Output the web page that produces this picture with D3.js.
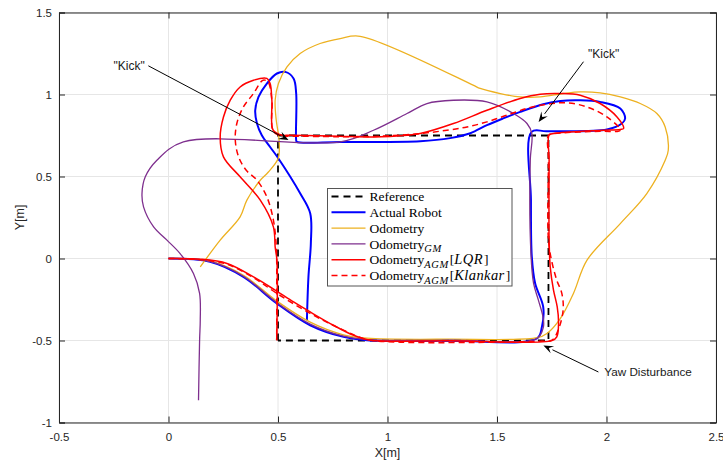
<!DOCTYPE html>
<html>
<head>
<meta charset="utf-8">
<script src="https://cdn.jsdelivr.net/npm/d3@7"></script>
<style>
  body { margin: 0; background: #fff; }
  svg { display: block; font-family: "Liberation Sans", Arial, sans-serif; }
</style>
</head>
<body>
<svg id="chart" width="723" height="464"></svg>
<script>
// axis ticks
const xTicks = [-0.5, 0, 0.5, 1, 1.5, 2, 2.5];
const yTicks = [-1, -0.5, 0, 0.5, 1, 1.5];

// reference square
const reference = [[0.5, -0.5], [0.5, 0.75], [1.735, 0.75], [1.735, -0.5], [0.5, -0.5]];

// actual robot (blue)
const actualRobot = [
  [0, 0], [0.19, -0.02], [0.342, -0.112], [0.495, -0.274], [0.647, -0.407], [0.799, -0.478],
  [0.906, -0.498], [1.286, -0.501], [1.682, -0.488], [1.705, -0.417], [1.711, -0.295],
  [1.674, -0.151], [1.659, 0.01], [1.655, 0.356], [1.658, 0.772], [1.728, 0.776],
  [2.002, 0.787], [2.07, 0.823], [2.085, 0.854], [2.063, 0.915], [1.971, 0.955],
  [1.88, 0.965], [1.789, 0.961], [1.711, 0.941], [1.606, 0.894], [1.528, 0.854],
  [1.454, 0.813], [1.378, 0.764], [1.286, 0.734], [1.149, 0.715], [0.784, 0.711],
  [0.586, 0.711], [0.583, 0.722], [0.583, 1.006], [0.571, 1.098], [0.533, 1.138],
  [0.495, 1.128], [0.449, 1.067], [0.411, 0.985], [0.396, 0.904], [0.404, 0.823],
  [0.426, 0.752], [0.464, 0.68], [0.502, 0.61], [0.601, 0.398], [0.647, 0.276],
  [0.65, 0.093], [0.639, -0.112], [0.632, -0.376]
];

// odometry (orange)
const odometry = [
  [0, 0], [0.19, -0.016], [0.342, -0.102], [0.495, -0.26], [0.647, -0.388], [0.799, -0.465],
  [0.906, -0.486], [1.286, -0.492], [1.684, -0.483], [1.728, -0.457], [1.789, -0.366],
  [1.849, -0.213], [1.911, -0.01], [2.063, 0.213], [2.184, 0.396], [2.268, 0.599],
  [2.282, 0.66], [2.268, 0.802], [2.23, 0.884], [2.154, 0.945], [2.063, 0.985],
  [1.971, 1.01], [1.88, 1.016], [1.804, 1.006], [1.697, 0.985], [1.606, 0.985],
  [1.515, 1.006], [1.423, 1.037], [1.391, 1.057], [0.875, 1.355], [0.784, 1.341],
  [0.692, 1.311], [0.601, 1.25], [0.541, 1.168], [0.502, 1.067], [0.487, 0.965],
  [0.492, 0.843], [0.505, 0.721], [0.501, 0.611], [0.455, 0.526], [0.419, 0.477],
  [0.358, 0.356], [0.327, 0.254], [0.236, 0.112], [0.145, -0.051]
];

// odometry GM (purple)
const odometryGM = [
  [0, 0], [0.19, -0.018], [0.342, -0.108], [0.495, -0.27], [0.647, -0.4], [0.799, -0.474],
  [0.906, -0.495], [1.286, -0.498], [1.682, -0.488], [1.712, -0.417], [1.71, -0.356],
  [1.689, -0.254], [1.667, -0.152], [1.655, 0.03], [1.652, 0.599], [1.659, 0.762],
  [1.637, 0.823], [1.575, 0.884], [1.454, 0.955], [1.301, 0.965], [1.18, 0.945],
  [1.089, 0.884], [0.936, 0.782], [0.784, 0.711], [0.068, 0.711], [-0.053, 0.599],
  [-0.106, 0.498], [-0.121, 0.396], [-0.114, 0.315], [-0.068, 0.193], [-0.007, 0.112],
  [0.053, 0.03], [0.114, -0.091], [0.142, -0.213], [0.145, -0.376], [0.142, -0.498],
  [0.137, -0.864]
];

// odometry AGM with LQR (red solid)
const odometryLQR = [
  [0, 0], [0.145, -0.004], [0.267, -0.03], [0.388, -0.112], [0.487, -0.193], [0.571, -0.265],
  [0.647, -0.326], [0.753, -0.407], [0.845, -0.468], [0.921, -0.498], [1.286, -0.501],
  [1.751, -0.501], [1.773, -0.478], [1.781, -0.396], [1.775, -0.295], [1.758, -0.193],
  [1.743, -0.051], [1.738, 0.112], [1.738, 0.599], [1.738, 0.752], [1.758, 0.762],
  [1.834, 0.772], [1.986, 0.782], [2.063, 0.787], [2.078, 0.793], [2.048, 0.863],
  [1.971, 0.945], [1.88, 0.996], [1.789, 1.006], [1.697, 1.002], [1.606, 0.976],
  [1.454, 0.904], [1.301, 0.823], [1.149, 0.762], [1.089, 0.752], [0.936, 0.741],
  [0.784, 0.746], [0.556, 0.752], [0.518, 0.752], [0.478, 0.782], [0.472, 0.965],
  [0.464, 1.067], [0.449, 1.098], [0.388, 1.087], [0.327, 1.046], [0.282, 0.965],
  [0.251, 0.863], [0.236, 0.741], [0.251, 0.62], [0.327, 0.498], [0.419, 0.356],
  [0.479, 0.193], [0.487, 0.071], [0.495, -0.01], [0.494, -0.498]
];

// odometry AGM with Klancar (red dashed)
const odometryKlankar = [
  [0, 0], [0.145, -0.007], [0.267, -0.035], [0.388, -0.117], [0.495, -0.213], [0.647, -0.335],
  [0.799, -0.437], [0.906, -0.494], [1.058, -0.51], [1.515, -0.51], [1.697, -0.504],
  [1.751, -0.498], [1.779, -0.437], [1.802, -0.315], [1.796, -0.213], [1.773, -0.132],
  [1.751, -0.023], [1.735, 0.112], [1.735, 0.599], [1.735, 0.752], [1.756, 0.761],
  [1.971, 0.776], [2.063, 0.782], [2.002, 0.863], [1.911, 0.924], [1.819, 0.949],
  [1.728, 0.941], [1.637, 0.915], [1.545, 0.874], [1.454, 0.833], [1.363, 0.802],
  [1.271, 0.782], [1.149, 0.762], [0.967, 0.746], [0.784, 0.743], [0.556, 0.746],
  [0.518, 0.746], [0.478, 0.776], [0.472, 0.965], [0.455, 1.075], [0.432, 1.087],
  [0.388, 1.006], [0.342, 0.924], [0.312, 0.823], [0.305, 0.721], [0.32, 0.62],
  [0.355, 0.538], [0.404, 0.477], [0.449, 0.376], [0.479, 0.234], [0.492, 0.081],
  [0.494, -0.01], [0.494, -0.498]
];

// annotations: text, text position, arrow start, arrow tip (data units)
const annotations = [
  { label: '"Kick"', at: [-0.18, 1.175], from: [-0.092, 1.175], to: [0.548, 0.722] },
  { label: '"Kick"', at: [1.987, 1.25], from: [1.895, 1.2], to: [1.69, 0.833] },
  { label: 'Yaw Disturbance', at: [1.99, -0.692], from: [1.963, -0.692], to: [1.712, -0.53] }
];

const width = 723, height = 464;
const margin = { left: 59, right: 7, top: 12.5, bottom: 41.5 };

const svg = d3.select('#chart');

const x = d3.scaleLinear().domain([-0.5, 2.5]).range([margin.left, width - margin.right]);
const y = d3.scaleLinear().domain([-1, 1.5]).range([height - margin.bottom, margin.top]);

// grid
const grid = svg.append('g').attr('stroke', '#e6e6e6').attr('stroke-width', 1);
grid.selectAll('.gx').data(xTicks).enter().append('line')
  .attr('x1', d => x(d)).attr('x2', d => x(d))
  .attr('y1', y(-1)).attr('y2', y(1.5));
grid.selectAll('.gy').data(yTicks).enter().append('line')
  .attr('x1', x(-0.5)).attr('x2', x(2.5))
  .attr('y1', d => y(d)).attr('y2', d => y(d));

// axes
const axisColor = '#262626';
const fmt = d => String(d);
const xAxis = svg.append('g').attr('transform', `translate(0,${y(-1)})`)
  .call(d3.axisBottom(x).tickValues(xTicks).tickSize(-6).tickPadding(10).tickFormat(fmt));
const yAxis = svg.append('g').attr('transform', `translate(${x(-0.5)},0)`)
  .call(d3.axisLeft(y).tickValues(yTicks).tickSize(-6).tickPadding(7).tickFormat(fmt));
const xTop = svg.append('g').attr('transform', `translate(0,${y(1.5)})`)
  .call(d3.axisTop(x).tickValues(xTicks).tickSize(-6).tickFormat(''));
const yRight = svg.append('g').attr('transform', `translate(${x(2.5)},0)`)
  .call(d3.axisRight(y).tickValues(yTicks).tickSize(-6).tickFormat(''));
[xAxis, yAxis, xTop, yRight].forEach(a => {
  a.select('.domain').attr('stroke', axisColor).attr('stroke-width', 1);
  a.selectAll('.tick line').attr('stroke', axisColor).attr('stroke-width', 1);
  a.selectAll('.tick text').attr('fill', axisColor).style('font-size', '11.5px')
    .style('font-family', '"Liberation Sans", Arial, sans-serif');
});

svg.append('text').attr('x', (x(-0.5) + x(2.5)) / 2).attr('y', 457)
  .attr('text-anchor', 'middle').attr('fill', axisColor).style('font-size', '12.5px').text('X[m]');
svg.append('text').attr('transform', `translate(24,${(y(-1) + y(1.5)) / 2}) rotate(-90)`)
  .attr('text-anchor', 'middle').attr('fill', axisColor).style('font-size', '12.5px').text('Y[m]');

// plot area clip
svg.append('clipPath').attr('id', 'clip').append('rect')
  .attr('x', x(-0.5)).attr('y', y(1.5))
  .attr('width', x(2.5) - x(-0.5)).attr('height', y(-1) - y(1.5));

const plot = svg.append('g').attr('clip-path', 'url(#clip)');

const lineSmooth = d3.line().x(d => x(d[0])).y(d => y(d[1])).curve(d3.curveCatmullRom.alpha(0.5));
const lineStraight = d3.line().x(d => x(d[0])).y(d => y(d[1]));

const series = [
  { name: 'Reference', data: reference, color: '#000000', width: 1.8, dash: '7,5', gen: lineStraight },
  { name: 'Actual Robot', data: actualRobot, color: '#0000ff', width: 2, dash: null, gen: lineSmooth },
  { name: 'Odometry', data: odometry, color: '#edb120', width: 1.3, dash: null, gen: lineSmooth },
  { name: 'GM', data: odometryGM, color: '#7e2f8e', width: 1.3, dash: null, gen: lineSmooth },
  { name: 'LQR', data: odometryLQR, color: '#ff0000', width: 1.5, dash: null, gen: lineSmooth },
  { name: 'Klankar', data: odometryKlankar, color: '#ff0000', width: 1.5, dash: '6,4', gen: lineSmooth }
];

plot.selectAll('.series').data(series).enter().append('path')
  .attr('class', 'series')
  .attr('d', d => d.gen(d.data))
  .attr('fill', 'none')
  .attr('stroke', d => d.color)
  .attr('stroke-width', d => d.width)
  .attr('stroke-dasharray', d => d.dash)
  .attr('stroke-linejoin', 'round');

// annotations with arrows
annotations.forEach(a => {
  const x0 = x(a.from[0]), y0 = y(a.from[1]);
  const x1 = x(a.to[0]), y1 = y(a.to[1]);
  const ang = Math.atan2(y1 - y0, x1 - x0);
  const len = 10, half = 4;
  const bx = x1 - len * Math.cos(ang), by = y1 - len * Math.sin(ang);
  svg.append('line').attr('x1', x0).attr('y1', y0).attr('x2', bx).attr('y2', by)
    .attr('stroke', '#000').attr('stroke-width', 1);
  const pts = [
    [x1, y1],
    [bx + half * Math.sin(ang), by - half * Math.cos(ang)],
    [x1 - 0.6 * len * Math.cos(ang), y1 - 0.6 * len * Math.sin(ang)],
    [bx - half * Math.sin(ang), by + half * Math.cos(ang)]
  ];
  svg.append('polygon').attr('points', pts.map(p => p.join(',')).join(' ')).attr('fill', '#000');
  svg.append('text').attr('x', x(a.at[0])).attr('y', y(a.at[1]))
    .attr('dy', '0.35em').attr('text-anchor', a.label === 'Yaw Disturbance' ? 'start' : 'middle')
    .attr('fill', '#1a1a1a').style('font-size', a.label === 'Yaw Disturbance' ? '11.7px' : '12px')
    .text(a.label);
});

// legend
const lg = svg.append('g').attr('transform', 'translate(327.5,188.5)');
lg.append('rect').attr('width', 184.5).attr('height', 97.5)
  .attr('fill', '#fff').attr('stroke', '#555').attr('stroke-width', 1);
const rowH = 15.8;
const legendRows = lg.selectAll('.row').data(series).enter().append('g')
  .attr('transform', (d, i) => `translate(0,${8 + i * rowH})`);
legendRows.append('line').attr('x1', 4).attr('x2', 38)
  .attr('stroke', d => d.color).attr('stroke-width', d => d.width)
  .attr('stroke-dasharray', d => d.dash);
const lt = legendRows.append('text').attr('x', 42).attr('dy', '0.35em')
  .style('font-family', '"Liberation Serif", "DejaVu Serif", serif').style('font-size', '13.5px')
  .attr('fill', '#000');
lt.each(function(d) {
  const t = d3.select(this);
  if (d.name === 'Reference' || d.name === 'Actual Robot') { t.text(d.name); return; }
  t.append('tspan').text('Odometry');
  if (d.name === 'Odometry') return;
  const sub = d.name === 'GM' ? 'GM' : 'AGM';
  t.append('tspan').attr('dy', 3.5).style('font-size', '10.5px').style('font-style', 'italic')
    .attr('letter-spacing', 0.6).text(sub);
  if (d.name === 'GM') return;
  t.append('tspan').attr('dy', -3.5).attr('dx', 1).text('[');
  t.append('tspan').style('font-style', 'italic').style('font-size', '14.5px')
    .attr('letter-spacing', 0.4).text(d.name);
  t.append('tspan').attr('dx', 1).text(']');
});
</script>
</body>
</html>
